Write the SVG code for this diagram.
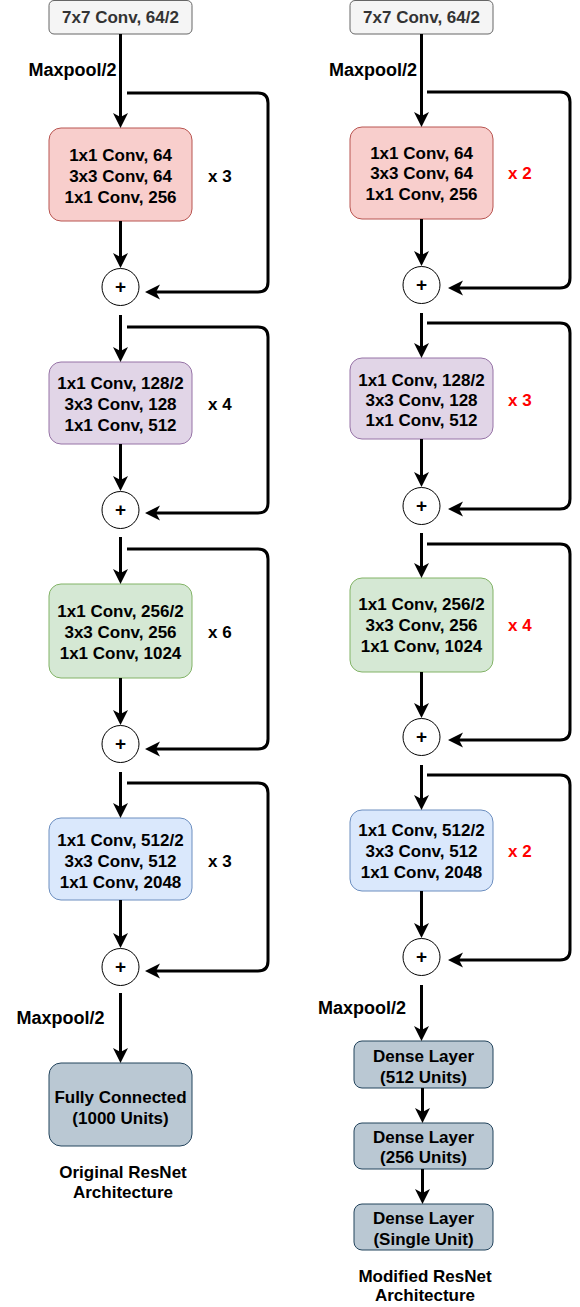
<svg xmlns="http://www.w3.org/2000/svg" width="580" height="1307" viewBox="0 0 580 1307">
<style>
text{font-family:"Liberation Sans",Arial,sans-serif;font-weight:bold;font-size:17px;fill:#000;text-anchor:middle;dominant-baseline:central}
.lbl{font-size:18px}
.rep{text-anchor:start}
.red{fill:#ff0000}
.gray{fill:#333333}
.plus{font-size:19px}
.in{fill:#f5f5f5;stroke:#666666;stroke-width:1}
.pink{fill:#f8cecc;stroke:#b85450;stroke-width:1}
.purple{fill:#e1d5e7;stroke:#9673a6;stroke-width:1}
.green{fill:#d5e8d4;stroke:#82b366;stroke-width:1}
.blue{fill:#dae8fc;stroke:#6c8ebf;stroke-width:1}
.dense{fill:#bac8d3;stroke:#23445d;stroke-width:1}
.add{fill:#ffffff;stroke:#000;stroke-width:1}
.c{fill:none;stroke:#000;stroke-width:3;marker-end:url(#ah)}
</style>
<defs>
<marker id="ah" viewBox="0 0 17 17" markerUnits="userSpaceOnUse" markerWidth="17" markerHeight="17" refX="12" refY="8.5" orient="auto">
<path d="M1,1 L16,8.5 L1,16 L5,8.5 z" fill="#000"/>
</marker>
</defs>
<rect width="580" height="1307" fill="#ffffff"/>

<!-- LEFT COLUMN NODES -->
<g id="L-input"><rect class="in" x="49" y="0.5" width="143" height="33.5" rx="5"/><text class="gray" x="120.5" y="17">7x7 Conv, 64/2</text></g>
<g id="L-stage1"><rect class="pink" x="49" y="128" width="143" height="93" rx="12"/><text x="120.5" y="155">1x1 Conv, 64</text><text x="120.5" y="176">3x3 Conv, 64</text><text x="120.5" y="197">1x1 Conv, 256</text></g>
<g id="L-add1"><circle class="add" cx="120.5" cy="287" r="18.5"/><text class="plus" x="120.5" y="286">+</text></g>
<g id="L-stage2"><rect class="purple" x="49" y="362" width="143" height="82" rx="12"/><text x="120.5" y="383">1x1 Conv, 128/2</text><text x="120.5" y="404">3x3 Conv, 128</text><text x="120.5" y="425">1x1 Conv, 512</text></g>
<g id="L-add2"><circle class="add" cx="120.5" cy="510" r="18.5"/><text class="plus" x="120.5" y="509">+</text></g>
<g id="L-stage3"><rect class="green" x="49" y="584" width="143" height="94" rx="12"/><text x="120.5" y="611">1x1 Conv, 256/2</text><text x="120.5" y="632">3x3 Conv, 256</text><text x="120.5" y="653">1x1 Conv, 1024</text></g>
<g id="L-add3"><circle class="add" cx="120.5" cy="744" r="18.5"/><text class="plus" x="120.5" y="743">+</text></g>
<g id="L-stage4"><rect class="blue" x="49" y="818" width="143" height="82" rx="12"/><text x="120.5" y="840">1x1 Conv, 512/2</text><text x="120.5" y="861">3x3 Conv, 512</text><text x="120.5" y="882">1x1 Conv, 2048</text></g>
<g id="L-add4"><circle class="add" cx="120.5" cy="967" r="18.5"/><text class="plus" x="120.5" y="966">+</text></g>
<g id="L-fc"><rect class="dense" x="49" y="1063" width="143" height="83" rx="12"/><text x="120.5" y="1097">Fully Connected</text><text x="120.5" y="1118">(1000 Units)</text></g>
<g id="L-caption"><text x="123" y="1172">Original ResNet</text><text x="123" y="1192">Architecture</text></g>
<g id="L-reps"><text class="rep" x="208" y="176">x 3</text><text class="rep" x="208" y="404">x 4</text><text class="rep" x="208" y="632">x 6</text><text class="rep" x="208" y="861">x 3</text></g>

<!-- RIGHT COLUMN NODES -->
<g id="R-input"><rect class="in" x="350" y="0.5" width="143" height="33.5" rx="5"/><text class="gray" x="421.5" y="17">7x7 Conv, 64/2</text></g>
<g id="R-stage1"><rect class="pink" x="350" y="127" width="143" height="92" rx="12"/><text x="421.5" y="153">1x1 Conv, 64</text><text x="421.5" y="173">3x3 Conv, 64</text><text x="421.5" y="194">1x1 Conv, 256</text></g>
<g id="R-add1"><circle class="add" cx="421.5" cy="285" r="18.5"/><text class="plus" x="421.5" y="284">+</text></g>
<g id="R-stage2"><rect class="purple" x="350" y="358" width="143" height="81" rx="12"/><text x="421.5" y="380">1x1 Conv, 128/2</text><text x="421.5" y="400">3x3 Conv, 128</text><text x="421.5" y="420">1x1 Conv, 512</text></g>
<g id="R-add2"><circle class="add" cx="421.5" cy="506" r="18.5"/><text class="plus" x="421.5" y="505">+</text></g>
<g id="R-stage3"><rect class="green" x="350" y="578" width="143" height="94" rx="12"/><text x="421.5" y="604">1x1 Conv, 256/2</text><text x="421.5" y="625">3x3 Conv, 256</text><text x="421.5" y="646">1x1 Conv, 1024</text></g>
<g id="R-add3"><circle class="add" cx="421.5" cy="737" r="18.5"/><text class="plus" x="421.5" y="736">+</text></g>
<g id="R-stage4"><rect class="blue" x="350" y="810" width="143" height="81" rx="12"/><text x="421.5" y="830">1x1 Conv, 512/2</text><text x="421.5" y="851">3x3 Conv, 512</text><text x="421.5" y="872">1x1 Conv, 2048</text></g>
<g id="R-add4"><circle class="add" cx="421.5" cy="957" r="18.5"/><text class="plus" x="421.5" y="956">+</text></g>
<g id="R-dense1"><rect class="dense" x="354" y="1041" width="139" height="47" rx="8"/><text x="423.5" y="1056">Dense Layer</text><text x="423.5" y="1077">(512 Units)</text></g>
<g id="R-dense2"><rect class="dense" x="354" y="1123" width="139" height="46" rx="8"/><text x="423.5" y="1137">Dense Layer</text><text x="423.5" y="1157">(256 Units)</text></g>
<g id="R-dense3"><rect class="dense" x="354" y="1204" width="139" height="46" rx="8"/><text x="423.5" y="1218">Dense Layer</text><text x="423.5" y="1239">(Single Unit)</text></g>
<g id="R-caption"><text x="425" y="1276">Modified ResNet</text><text x="425" y="1295">Architecture</text></g>
<g id="R-reps"><text class="rep red" x="508" y="173">x 2</text><text class="rep red" x="508" y="400">x 3</text><text class="rep red" x="508" y="625">x 4</text><text class="rep red" x="508" y="851">x 2</text></g>

<!-- CONNECTORS -->
<g id="connectors">
<path class="c" d="M120.5,34 V124"/>
<path class="c" d="M120.5,221 V264"/>
<path class="c" d="M120.5,315 V358"/>
<path class="c" d="M120.5,444 V487"/>
<path class="c" d="M120.5,537 V580"/>
<path class="c" d="M120.5,678 V721"/>
<path class="c" d="M120.5,772 V814"/>
<path class="c" d="M120.5,900 V944"/>
<path class="c" d="M120.5,993 V1059"/>
<path class="c" d="M127,93 H258 Q268,93 268,103 V282 Q268,292 258,292 H149"/>
<path class="c" d="M127,327 H258 Q268,327 268,337 V503 Q268,513 258,513 H149"/>
<path class="c" d="M127,549 H258 Q268,549 268,559 V739 Q268,749 258,749 H149"/>
<path class="c" d="M127,783 H258 Q268,783 268,793 V961 Q268,971 258,971 H149"/>

<path class="c" d="M421.5,34 V123"/>
<path class="c" d="M421.5,219 V262"/>
<path class="c" d="M421.5,313 V354"/>
<path class="c" d="M421.5,439 V483"/>
<path class="c" d="M421.5,533 V574"/>
<path class="c" d="M421.5,672 V714"/>
<path class="c" d="M421.5,765 V806"/>
<path class="c" d="M421.5,891 V934"/>
<path class="c" d="M421.5,985 V1037"/>
<path class="c" d="M422.5,1088 V1119"/>
<path class="c" d="M422.5,1169 V1200"/>
<path class="c" d="M427,92 H560 Q570,92 570,102 V278 Q570,288 560,288 H452"/>
<path class="c" d="M427,323 H560 Q570,323 570,333 V499 Q570,509 560,509 H452"/>
<path class="c" d="M427,544 H560 Q570,544 570,554 V730 Q570,740 560,740 H452"/>
<path class="c" d="M427,775 H560 Q570,775 570,785 V950 Q570,960 560,960 H452"/>
</g>

<g id="edge-labels">
<text class="lbl" x="72.5" y="70">Maxpool/2</text>
<text class="lbl" x="373" y="70">Maxpool/2</text>
<text class="lbl" x="60.5" y="1018">Maxpool/2</text>
<text class="lbl" x="362" y="1008">Maxpool/2</text>
</g>
</svg>
